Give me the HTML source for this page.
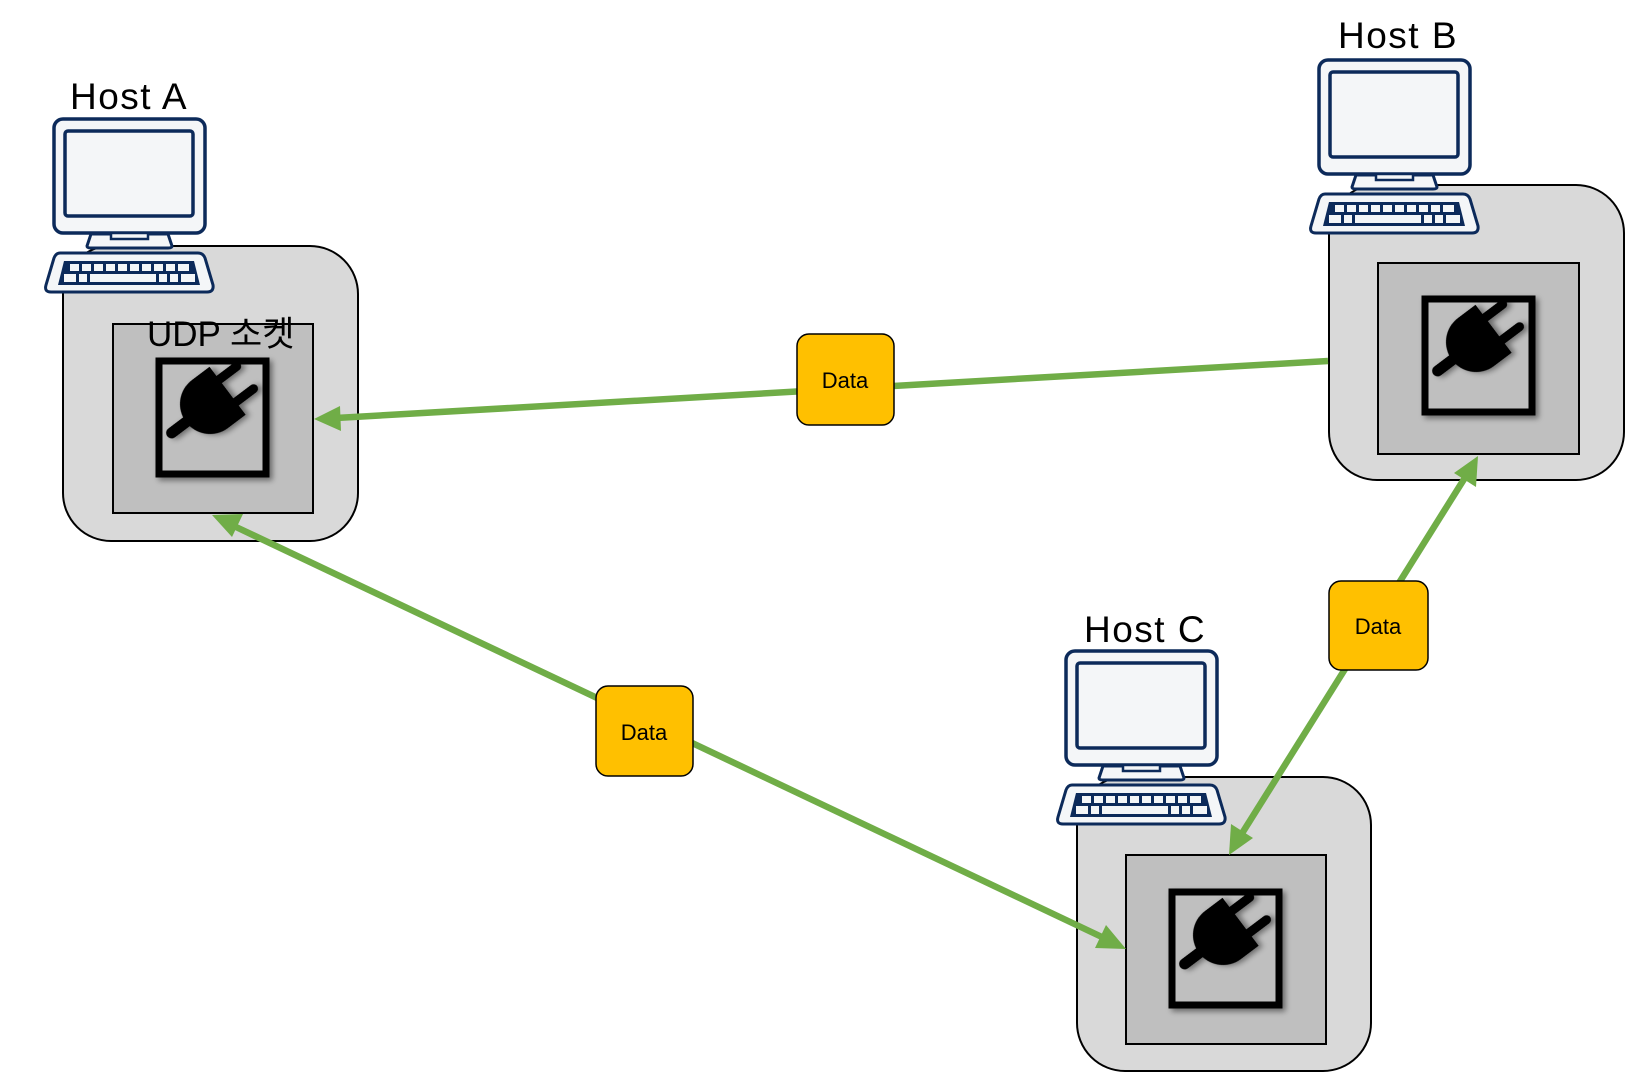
<!DOCTYPE html>
<html><head><meta charset="utf-8"><style>
html,body{margin:0;padding:0;background:#fff;}
svg{display:block;}
text{font-family:"Liberation Sans","Noto Sans CJK KR",sans-serif;}
</style></head><body>
<svg width="1625" height="1074" viewBox="0 0 1625 1074" xmlns="http://www.w3.org/2000/svg">
<defs>
<filter id="sh" x="-20%" y="-20%" width="150%" height="150%"><feDropShadow dx="3" dy="3" stdDeviation="3" flood-color="#000" flood-opacity="0.45"/></filter>
<g id="comp">
  <rect x="54" y="119" width="151" height="114" rx="9" fill="#f4f6f8" stroke="#0c2a5a" stroke-width="3.5"/>
  <rect x="65" y="131" width="128" height="85" rx="3" fill="#f4f6f8" stroke="#0c2a5a" stroke-width="3.5"/>
  <path d="M91,234 L168,234 L172,246 Q172,248 168,248 L91,248 Q87,248 87,246 Z" fill="#f4f6f8" stroke="#0c2a5a" stroke-width="3"/>
  <rect x="111" y="233" width="37" height="6" fill="#f4f6f8" stroke="#0c2a5a" stroke-width="2.5"/>
  <path d="M60,253 L198,253 Q203,253 205,258 L213,285 Q214,292 207,292 L51,292 Q44,292 46,285 L54,258 Q56,253 60,253 Z" fill="#f4f6f8" stroke="#0c2a5a" stroke-width="3"/>
  <path d="M64,261 L194,261 L200,285 L58,285 Z" fill="#0c2a5a"/>
  <g fill="#f4f6f8">
    <rect x="70" y="264" width="9" height="7"/><rect x="82" y="264" width="9" height="7"/><rect x="94" y="264" width="9" height="7"/><rect x="106" y="264" width="9" height="7"/><rect x="118" y="264" width="9" height="7"/><rect x="130" y="264" width="9" height="7"/><rect x="142" y="264" width="9" height="7"/><rect x="154" y="264" width="9" height="7"/><rect x="166" y="264" width="9" height="7"/><rect x="178" y="264" width="11" height="7"/>
    <rect x="64" y="274" width="12" height="8"/><rect x="79" y="274" width="8" height="8"/><rect x="90" y="274" width="66" height="8"/><rect x="159" y="274" width="8" height="8"/><rect x="170" y="274" width="8" height="8"/><rect x="181" y="274" width="14" height="8"/>
  </g>
</g>
<g id="sock">
  <rect x="159" y="361" width="107" height="113" fill="#bfbfbf" stroke="#000" stroke-width="7" filter="url(#sh)"/>
  <g transform="translate(210,404) rotate(-37)" filter="url(#sh)">
    <line x1="-12" y1="0" x2="-48" y2="0" stroke="#000" stroke-width="11" stroke-linecap="round"/>
    <path d="M22,-30 L22,30 L0,30 A30,30 0 0 1 0,-30 Z" fill="#000"/>
    <line x1="20" y1="-14" x2="44" y2="-14" stroke="#000" stroke-width="9" stroke-linecap="round"/>
    <line x1="20" y1="14" x2="44" y2="14" stroke="#000" stroke-width="9" stroke-linecap="round"/>
  </g>
</g>
</defs>

<!-- Host A -->
<rect x="63" y="246" width="295" height="295" rx="48" fill="#d9d9d9" stroke="#000" stroke-width="2"/>
<rect x="113" y="324" width="200" height="189" fill="#bfbfbf" stroke="#000" stroke-width="2"/>
<use href="#sock"/>
<use href="#comp"/>
<text x="70" y="109" font-size="37" letter-spacing="1.5">Host A</text>
<text x="147" y="346" font-size="35">UDP 소켓</text>

<!-- Host B -->
<rect x="1329" y="185" width="295" height="295" rx="48" fill="#d9d9d9" stroke="#000" stroke-width="2"/>
<rect x="1378" y="263" width="201" height="191" fill="#bfbfbf" stroke="#000" stroke-width="2"/>
<use href="#sock" transform="translate(1266,-62)"/>
<use href="#comp" transform="translate(1265,-59)"/>
<text x="1338" y="48" font-size="37" letter-spacing="1.5">Host B</text>

<!-- Host C -->
<rect x="1077" y="777" width="294" height="294" rx="48" fill="#d9d9d9" stroke="#000" stroke-width="2"/>
<rect x="1126" y="855" width="200" height="189" fill="#bfbfbf" stroke="#000" stroke-width="2"/>
<use href="#sock" transform="translate(1013,531)"/>
<use href="#comp" transform="translate(1012,532)"/>
<text x="1084" y="642" font-size="37" letter-spacing="1.5">Host C</text>

<!-- arrows -->
<g stroke="#70ad47" stroke-width="6.5" fill="none">
  <line x1="1328" y1="361" x2="336" y2="418"/>
  <line x1="236" y1="527" x2="1104" y2="938"/>
  <line x1="1466" y1="476" x2="1241" y2="835"/>
</g>
<g fill="#70ad47">
  <polygon points="314,419 340,406 341,431"/>
  <polygon points="212,515 243,514 232,537"/>
  <polygon points="1126,949 1095,948 1106,925"/>
  <polygon points="1478,456 1476,487 1454,473"/>
  <polygon points="1229,855 1231,824 1253,838"/>
</g>

<!-- Data boxes -->
<g font-size="22" text-anchor="middle">
  <rect x="797" y="334" width="97" height="91" rx="12" fill="#ffc000" stroke="#000" stroke-width="1.5"/>
  <text x="845" y="388">Data</text>
  <rect x="1329" y="581" width="99" height="89" rx="12" fill="#ffc000" stroke="#000" stroke-width="1.5"/>
  <text x="1378" y="634">Data</text>
  <rect x="596" y="686" width="97" height="90" rx="12" fill="#ffc000" stroke="#000" stroke-width="1.5"/>
  <text x="644" y="740">Data</text>
</g>
</svg>
</body></html>
